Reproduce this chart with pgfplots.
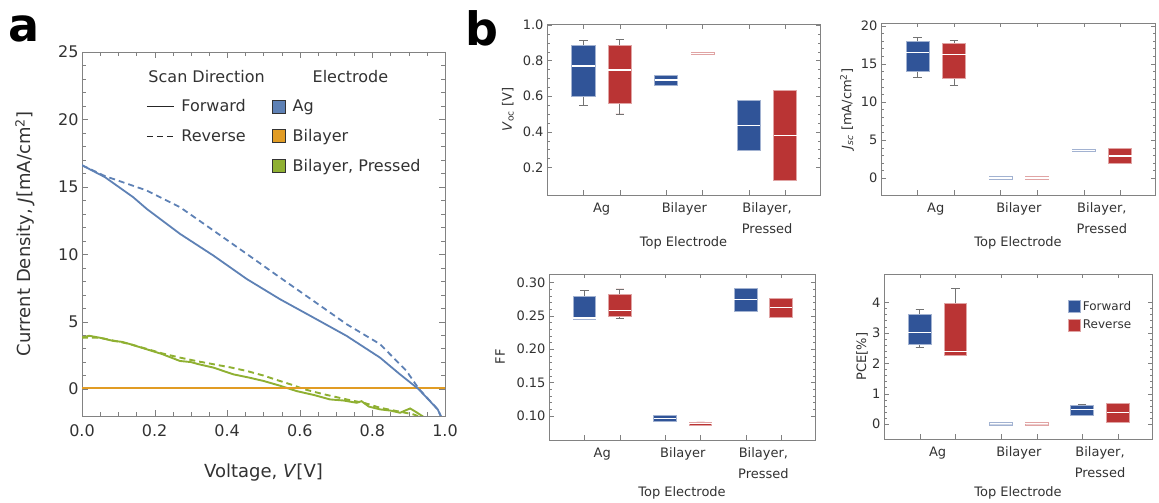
\documentclass[border=0pt]{standalone}
\usepackage{fontspec}
\setmainfont{DejaVu Sans}
\usepackage{pgfplots}
\pgfplotsset{compat=1.18}
\usepgfplotslibrary{statistics}

\definecolor{agblue}{RGB}{94,129,181}
\definecolor{bilorange}{RGB}{225,156,36}
\definecolor{presgreen}{RGB}{143,176,50}
\definecolor{fwdblue}{RGB}{48,84,152}
\definecolor{revred}{RGB}{186,52,52}
\definecolor{framegray}{RGB}{130,130,130}
\definecolor{textgray}{RGB}{50,50,50}

\pgfplotsset{
  base/.style={scale only axis, anchor=south west,
    axis line style={framegray, line width=0.9pt},
    /pgf/number format/assume math mode=true,
    ticklabel style={text=textgray}, label style={text=textgray}},
  bpanel/.style={base, font=\fontsize{13}{15}\selectfont,
    xmin=0.34, xmax=3.64,
    xtick={0.78,1.22,1.78,2.22,2.78,3.22}, xticklabels={},
    extra x ticks={1,2,3},
    extra x tick labels={Ag,Bilayer,{Bilayer,\\Pressed}},
    extra x tick style={major tick length=0pt,
      xticklabel style={align=center, anchor=north, yshift=-4pt,
        font=\fontsize{13}{21}\selectfont}},
    xlabel={Top Electrode},
    major tick length=4.5pt, minor tick length=2.5pt,
    boxplot/draw direction=y,
    boxplot/every median/.style={draw=white, line width=1.3pt},
    boxplot/every whisker/.style={draw=black!55, line width=0.9pt}},
  fwd/.style={forget plot, fill=fwdblue, draw=fwdblue!45!white, line width=0.8pt},
  rev/.style={forget plot, fill=revred, draw=revred!45!white, line width=0.8pt},
}

\begin{document}
\begin{tikzpicture}
\path[use as bounding box] (0pt,0pt) rectangle (1159pt,503pt);

% ---------------- panel a
\begin{axis}[base, at={(82pt,87pt)}, width=363pt, height=364pt,
  font=\fontsize{16}{19}\selectfont,
  xmin=0, xmax=1, ymin=-2, ymax=25,
  xtick={0,0.2,0.4,0.6,0.8,1.0}, minor x tick num=3,
  ytick={0,5,10,15,20,25}, minor y tick num=4,
  xticklabel style={/pgf/number format/fixed, /pgf/number format/fixed zerofill,
    /pgf/number format/precision=1, yshift=-5pt},
  major tick length=6pt, minor tick length=4pt,
  xlabel={Voltage, \textit{V}[V]},
  ylabel={Current Density, \textit{J}[mA/cm\textsuperscript{2}]},
  label style={font=\fontsize{18}{21}\selectfont},
  xlabel style={at={(axis description cs:0.5,-0.154)}, anchor=center},
  ylabel style={at={(axis description cs:-0.157,0.5)}, anchor=center},
  legend columns=2,
  legend cell align=left,
  legend style={at={(rel axis cs:0.168,0.962)}, anchor=north west, draw=none,
    fill=none, text=textgray, column sep=5pt, row sep=12pt,
    font=\fontsize{16}{19}\selectfont},
]
\addlegendimage{legend image code/.code={}}
\addlegendentry{\hspace*{-33pt}Scan Direction}
\addlegendimage{legend image code/.code={}}
\addlegendentry{\hspace*{20pt}Electrode}
\addlegendimage{legend image code/.code={\draw[black!85, line width=1.3pt] (0pt,0pt) -- (27pt,0pt);}}
\addlegendentry{Forward}
\addlegendimage{legend image code/.code={\draw[fill=agblue, draw=black!80, line width=0.9pt] (0pt,-6.5pt) rectangle (13pt,6.5pt);}}
\addlegendentry{Ag}
\addlegendimage{legend image code/.code={\draw[black!85, line width=1.3pt, dash pattern=on 6pt off 4pt] (0pt,0pt) -- (27pt,0pt);}}
\addlegendentry{Reverse}
\addlegendimage{legend image code/.code={\draw[fill=bilorange, draw=black!80, line width=0.9pt] (0pt,-6.5pt) rectangle (13pt,6.5pt);}}
\addlegendentry{Bilayer}
\addlegendimage{legend image code/.code={}}
\addlegendentry{}
\addlegendimage{legend image code/.code={\draw[fill=presgreen, draw=black!80, line width=0.9pt] (0pt,-6.5pt) rectangle (13pt,6.5pt);}}
\addlegendentry{Bilayer, Pressed}

% Bilayer, Pressed
\addplot[presgreen, line width=1.9pt, forget plot] coordinates {
(0,3.82) (0.02,3.95) (0.05,3.8) (0.086,3.57) (0.11,3.5) (0.13,3.35)
(0.178,2.95) (0.22,2.6) (0.27,2.08) (0.3,2.0) (0.32,1.85) (0.362,1.59)
(0.417,1.09) (0.46,0.85) (0.5,0.6) (0.545,0.25) (0.591,-0.15) (0.64,-0.45)
(0.683,-0.77) (0.72,-0.85) (0.757,-1.02) (0.77,-0.9) (0.79,-1.3) (0.821,-1.51)
(0.85,-1.6) (0.876,-1.76) (0.904,-1.44) (0.92,-1.7) (0.94,-2.05)};
\addplot[presgreen, line width=1.9pt, dash pattern=on 6pt off 4pt, forget plot] coordinates {
(0,3.82) (0.05,3.8) (0.13,3.35) (0.178,2.98) (0.22,2.65) (0.27,2.33)
(0.32,2.05) (0.362,1.84) (0.41,1.6) (0.454,1.34) (0.5,1.0) (0.545,0.6)
(0.58,0.3) (0.61,0.0) (0.66,-0.35) (0.729,-0.77) (0.78,-1.05) (0.821,-1.39)
(0.87,-1.65) (0.913,-1.88) (0.93,-2.05)};
% Bilayer
\addplot[bilorange, line width=2.2pt, forget plot] coordinates {(0,0.05) (1,0.05)};
\addplot[bilorange, line width=2.2pt, dash pattern=on 6pt off 4pt, forget plot] coordinates {(0,0.05) (1,0.05)};
% Ag
\addplot[agblue, line width=1.8pt, forget plot] coordinates {
(0,16.6) (0.063,15.72) (0.141,14.23) (0.178,13.37) (0.27,11.51) (0.362,9.9)
(0.454,8.16) (0.545,6.67) (0.637,5.31) (0.729,3.94) (0.821,2.33) (0.876,1.09)
(0.927,0.0) (0.98,-1.51) (0.99,-2.1)};
\addplot[agblue, line width=1.8pt, dash pattern=on 6pt off 4pt, forget plot] coordinates {
(0,16.6) (0.063,15.8) (0.178,14.73) (0.27,13.49) (0.362,11.76) (0.454,10.02)
(0.545,8.28) (0.637,6.55) (0.729,4.81) (0.821,3.33) (0.894,1.34) (0.927,0.05)
(0.98,-1.51) (0.99,-2.1)};
\end{axis}

% ---------------- panel b: Voc
\begin{axis}[bpanel, at={(547pt,308pt)}, width=273pt, height=171pt,
  ymin=0.045, ymax=1.005, ytick={0.2,0.4,0.6,0.8,1.0}, minor y tick num=3,
  yticklabel style={/pgf/number format/fixed, /pgf/number format/fixed zerofill,
    /pgf/number format/precision=1},
  ylabel={\textit{V}\textsubscript{oc} [V]},
  xlabel style={at={(axis description cs:0.5,-0.281)}, anchor=center},
  ylabel style={at={(axis description cs:-0.143,0.5)}, anchor=center}]
\addplot[fwd, boxplot prepared={draw position=0.78, lower whisker=0.55, lower quartile=0.60, median=0.77, upper quartile=0.885, upper whisker=0.91, box extend=0.28, whisker extend=0.1}] coordinates {};
\addplot[rev, boxplot prepared={draw position=1.22, lower whisker=0.50, lower quartile=0.557, median=0.746, upper quartile=0.885, upper whisker=0.92, box extend=0.28, whisker extend=0.1}] coordinates {};
\addplot[fwd, boxplot prepared={draw position=1.78, lower whisker=0.658, lower quartile=0.658, median=0.69, upper quartile=0.715, upper whisker=0.715, box extend=0.28, whisker extend=0.1}] coordinates {};
\addplot[rev, boxplot prepared={draw position=2.22, lower whisker=0.837, lower quartile=0.837, median=0.84, upper quartile=0.843, upper whisker=0.843, box extend=0.28, whisker extend=0.1}] coordinates {};
\addplot[fwd, boxplot prepared={draw position=2.78, lower whisker=0.295, lower quartile=0.295, median=0.435, upper quartile=0.577, upper whisker=0.577, box extend=0.28, whisker extend=0.1}] coordinates {};
\addplot[rev, boxplot prepared={draw position=3.22, lower whisker=0.128, lower quartile=0.128, median=0.38, upper quartile=0.633, upper whisker=0.633, box extend=0.28, whisker extend=0.1}] coordinates {};
\end{axis}

% ---------------- panel b: Jsc
\begin{axis}[bpanel, at={(881pt,308pt)}, width=274pt, height=172pt,
  ymin=-2.2, ymax=20.35, ytick={0,5,10,15,20}, minor y tick num=4,
  ylabel={\textit{J}\textsubscript{\textit{sc}} [mA/cm\textsuperscript{2}]},
  xlabel style={at={(axis description cs:0.5,-0.28)}, anchor=center},
  ylabel style={at={(axis description cs:-0.124,0.5)}, anchor=center}]
\addplot[fwd, boxplot prepared={draw position=0.78, lower whisker=13.2, lower quartile=14.0, median=16.5, upper quartile=17.95, upper whisker=18.5, box extend=0.28, whisker extend=0.1}] coordinates {};
\addplot[rev, boxplot prepared={draw position=1.22, lower whisker=12.2, lower quartile=13.1, median=16.2, upper quartile=17.7, upper whisker=18.07, box extend=0.28, whisker extend=0.1}] coordinates {};
\addplot[fwd, fill=fwdblue!25!white, boxplot prepared={draw position=1.78, lower whisker=-0.15, lower quartile=-0.15, median=0.02, upper quartile=0.18, upper whisker=0.18, box extend=0.28, whisker extend=0.1}] coordinates {};
\addplot[rev, fill=revred!25!white, boxplot prepared={draw position=2.22, lower whisker=-0.15, lower quartile=-0.15, median=0.02, upper quartile=0.18, upper whisker=0.18, box extend=0.28, whisker extend=0.1}] coordinates {};
\addplot[fwd, fill=fwdblue!40!white, boxplot prepared={draw position=2.78, lower whisker=3.5, lower quartile=3.5, median=3.65, upper quartile=3.8, upper whisker=3.8, box extend=0.28, whisker extend=0.1}] coordinates {};
\addplot[rev, boxplot prepared={draw position=3.22, lower whisker=1.97, lower quartile=1.97, median=2.93, upper quartile=3.85, upper whisker=3.85, box extend=0.28, whisker extend=0.1}] coordinates {};
\end{axis}

% ---------------- panel b: FF
\begin{axis}[bpanel, at={(549pt,63pt)}, width=266pt, height=166pt,
  ymin=0.0635, ymax=0.3125, ytick={0.10,0.15,0.20,0.25,0.30}, minor y tick num=4,
  yticklabel style={/pgf/number format/fixed, /pgf/number format/fixed zerofill,
    /pgf/number format/precision=2},
  ylabel={FF},
  xlabel style={at={(axis description cs:0.5,-0.319)}, anchor=center},
  ylabel style={at={(axis description cs:-0.184,0.5)}, anchor=center}]
\addplot[fwd, boxplot prepared={draw position=0.78, lower whisker=0.2445, lower quartile=0.2445, median=0.2465, upper quartile=0.2785, upper whisker=0.2875, box extend=0.28, whisker extend=0.1}] coordinates {};
\addplot[rev, boxplot prepared={draw position=1.22, lower whisker=0.246, lower quartile=0.2485, median=0.2575, upper quartile=0.2825, upper whisker=0.29, box extend=0.28, whisker extend=0.1}] coordinates {};
\addplot[fwd, boxplot prepared={draw position=1.78, lower whisker=0.0915, lower quartile=0.0915, median=0.096, upper quartile=0.1, upper whisker=0.1, box extend=0.28, whisker extend=0.1}] coordinates {};
\addplot[rev, boxplot prepared={draw position=2.22, lower whisker=0.086, lower quartile=0.086, median=0.0885, upper quartile=0.0905, upper whisker=0.0905, box extend=0.28, whisker extend=0.1}] coordinates {};
\addplot[fwd, boxplot prepared={draw position=2.78, lower whisker=0.257, lower quartile=0.257, median=0.2745, upper quartile=0.291, upper whisker=0.291, box extend=0.28, whisker extend=0.1}] coordinates {};
\addplot[rev, boxplot prepared={draw position=3.22, lower whisker=0.247, lower quartile=0.247, median=0.2625, upper quartile=0.276, upper whisker=0.276, box extend=0.28, whisker extend=0.1}] coordinates {};
\end{axis}

% ---------------- panel b: PCE
\begin{axis}[bpanel, at={(884pt,64pt)}, width=268pt, height=165pt,
  ymin=-0.49, ymax=4.93, ytick={0,1,2,3,4}, minor y tick num=4,
  ylabel={PCE[\%]},
  xlabel style={at={(axis description cs:0.5,-0.327)}, anchor=center},
  ylabel style={at={(axis description cs:-0.082,0.5)}, anchor=center},
  legend cell align=left,
  legend style={at={(rel axis cs:0.675,0.86)}, anchor=north west, draw=none,
    fill=none, text=textgray, row sep=4pt, font=\fontsize{12}{14}\selectfont}]
\addlegendimage{legend image code/.code={\draw[fill=fwdblue, draw=fwdblue!45!white, line width=0.8pt] (0pt,-6pt) rectangle (12pt,6pt);}}
\addlegendentry{Forward}
\addlegendimage{legend image code/.code={\draw[fill=revred, draw=revred!45!white, line width=0.8pt] (0pt,-6pt) rectangle (12pt,6pt);}}
\addlegendentry{Reverse}
\addplot[fwd, boxplot prepared={draw position=0.78, lower whisker=2.52, lower quartile=2.63, median=3.0, upper quartile=3.61, upper whisker=3.78, box extend=0.28, whisker extend=0.1}] coordinates {};
\addplot[rev, boxplot prepared={draw position=1.22, lower whisker=2.27, lower quartile=2.27, median=2.38, upper quartile=3.97, upper whisker=4.44, box extend=0.28, whisker extend=0.1}] coordinates {};
\addplot[fwd, fill=fwdblue!25!white, boxplot prepared={draw position=1.78, lower whisker=-0.03, lower quartile=-0.03, median=0.01, upper quartile=0.06, upper whisker=0.06, box extend=0.28, whisker extend=0.1}] coordinates {};
\addplot[rev, fill=revred!25!white, boxplot prepared={draw position=2.22, lower whisker=-0.03, lower quartile=-0.03, median=0.01, upper quartile=0.06, upper whisker=0.06, box extend=0.28, whisker extend=0.1}] coordinates {};
\addplot[fwd, boxplot prepared={draw position=2.78, lower whisker=0.28, lower quartile=0.28, median=0.47, upper quartile=0.63, upper whisker=0.63, box extend=0.28, whisker extend=0.1}] coordinates {};
\addplot[rev, boxplot prepared={draw position=3.22, lower whisker=0.07, lower quartile=0.07, median=0.38, upper quartile=0.69, upper whisker=0.69, box extend=0.28, whisker extend=0.1}] coordinates {};
\end{axis}

\node[inner sep=0pt, font=\fontsize{46}{46}\selectfont\bfseries] at (24pt,474pt) {a};
\node[inner sep=0pt, font=\fontsize{46}{46}\selectfont\bfseries] at (482pt,475pt) {b};
\end{tikzpicture}
\end{document}
